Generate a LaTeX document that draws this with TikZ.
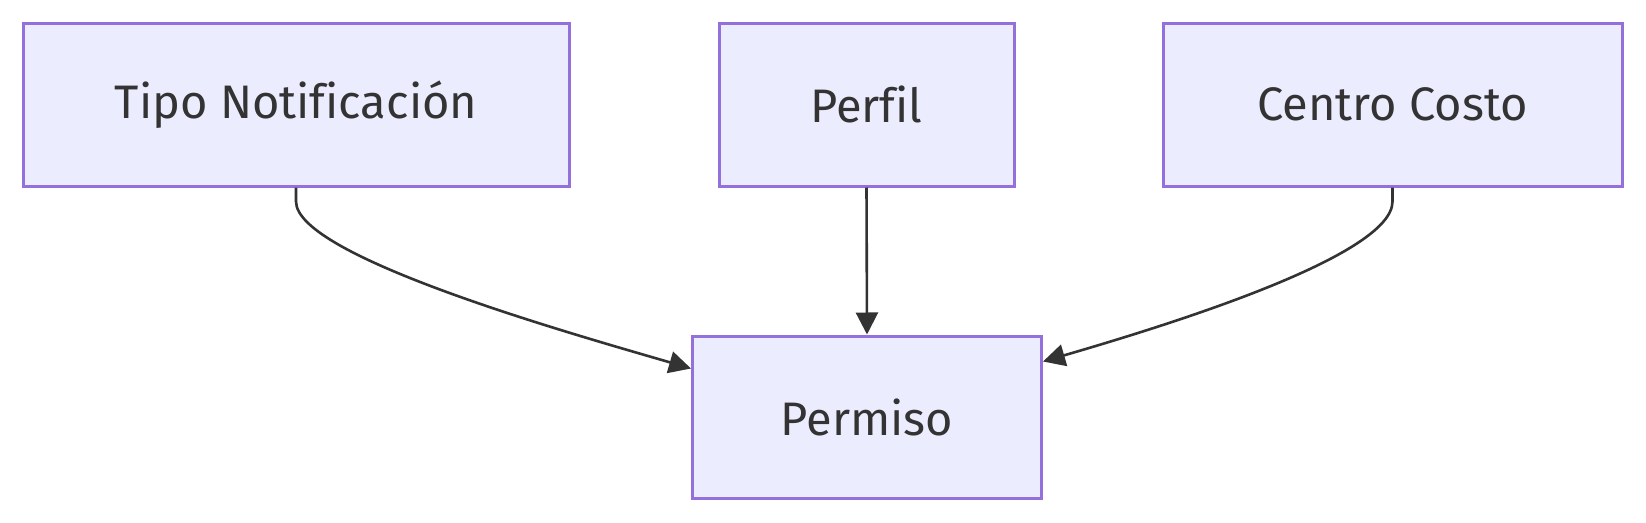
\documentclass[tikz,border=0pt]{standalone}
\usepackage{fontspec}
\setmainfont[Ligatures={NoCommon}]{Fira Sans}
\usetikzlibrary{arrows.meta}
\definecolor{boxfill}{HTML}{ECECFF}
\definecolor{boxline}{HTML}{9370DB}
\definecolor{ink}{HTML}{333333}
\tikzset{
  box/.style={draw=boxline, fill=boxfill, line width=3pt, minimum height=163pt, inner sep=0pt,
    text=ink, font=\fontsize{47}{54}\selectfont},
  arr/.style={draw=ink, line width=2.6pt, -{Triangle[length=22pt,width=22pt]}}
}
\begin{document}
\begin{tikzpicture}[x=1pt,y=-1pt]
\useasboundingbox (0,0) rectangle (1646,522);
\node[box, minimum width=546pt] (tn) at (296,104.5) {Tipo Notificación};
\node[box, minimum width=295pt] (perf) at (866.5,104.5) {Perfil};
\node[box, minimum width=459pt] (cc) at (1392.5,104.5) {Centro Costo};
\node[box, minimum width=349pt, minimum height=162pt] (perm) at (867,417) {Permiso};
\draw[arr] (tn.south) -- ++(0,14) .. controls +(0,55) and +(-120,-35) .. ([yshift=-34pt]perm.north west);
\draw[arr] (perf.south) -- (perm.north);
\draw[arr] (cc.south) -- ++(0,14) .. controls +(0,55) and +(120,-35) .. ([yshift=-27pt]perm.north east);
\end{tikzpicture}
\end{document}
